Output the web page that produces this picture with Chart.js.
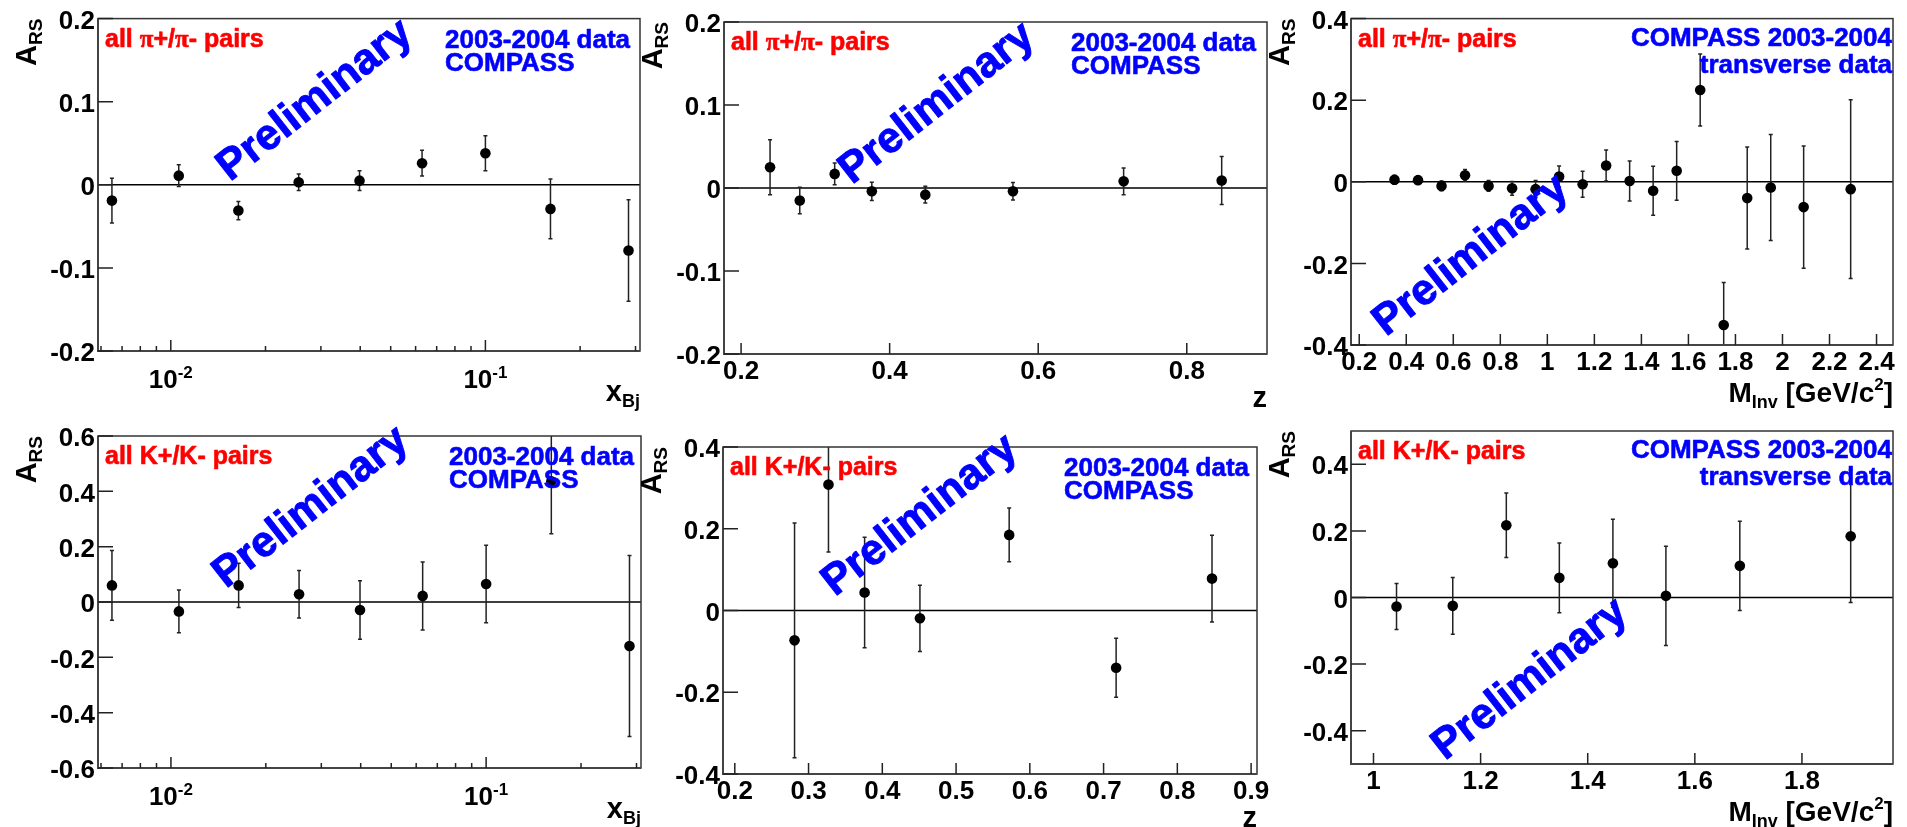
<!DOCTYPE html>
<html>
<head>
<meta charset="utf-8">
<script src="https://cdn.jsdelivr.net/npm/chart.js@4.4.1/dist/chart.umd.min.js"></script>
<style>
  body { margin: 0; background: #fff; width: 1907px; height: 827px; overflow: hidden; position: relative; }
  canvas { position: absolute; left: 0; top: 0; }
</style>
</head>
<body>
<canvas id="c1" width="1907" height="827"></canvas>
<canvas id="c2" width="1907" height="827"></canvas>
<canvas id="c3" width="1907" height="827"></canvas>
<canvas id="c4" width="1907" height="827"></canvas>
<canvas id="c5" width="1907" height="827"></canvas>
<canvas id="c6" width="1907" height="827"></canvas>
<script>
// ---- data ----
const xBjBins = [0.0065, 0.0106, 0.0164, 0.0255, 0.0398, 0.0629, 0.100, 0.161, 0.285];
const pionXbjA = [-0.019, 0.011, -0.031, 0.003, 0.005, 0.026, 0.038, -0.029, -0.079];
const pionXbjErr = [0.027, 0.013, 0.011, 0.010, 0.012, 0.0155, 0.021, 0.036, 0.061];
const kaonXbjA = [0.060, -0.034, 0.060, 0.028, -0.029, 0.022, 0.065, 0.436, -0.159];
const kaonXbjErr = [0.126, 0.077, 0.080, 0.086, 0.106, 0.123, 0.140, 0.189, 0.327];

const pionZBins = [0.239, 0.279, 0.326, 0.376, 0.448, 0.566, 0.715, 0.847];
const pionZA = [0.025, -0.015, 0.017, -0.004, -0.008, -0.004, 0.008, 0.009];
const pionZErr = [0.033, 0.016, 0.013, 0.011, 0.010, 0.0105, 0.016, 0.029];
const kaonZBins = [0.281, 0.327, 0.376, 0.451, 0.572, 0.717, 0.847];
const kaonZA = [-0.073, 0.308, 0.044, -0.019, 0.185, -0.140, 0.078];
const kaonZErr = [0.287, 0.165, 0.135, 0.081, 0.066, 0.072, 0.106];

const pionMBins = [0.35, 0.45, 0.55, 0.65, 0.75, 0.85, 0.95, 1.05, 1.15, 1.25, 1.35, 1.45, 1.55, 1.65, 1.75, 1.85, 1.95, 2.09, 2.29];
const pionMA = [0.005, 0.004, -0.010, 0.016, -0.010, -0.016, -0.018, 0.013, -0.006, 0.040, 0.002, -0.022, 0.027, 0.225, -0.351, -0.040, -0.014, -0.062, -0.018];
const pionMErr = [0.011, 0.010, 0.012, 0.014, 0.013, 0.017, 0.021, 0.026, 0.032, 0.038, 0.049, 0.060, 0.072, 0.088, 0.104, 0.125, 0.130, 0.150, 0.219];
const kaonMBins = [1.043, 1.148, 1.248, 1.347, 1.447, 1.546, 1.684, 1.891];
const kaonMA = [-0.027, -0.025, 0.217, 0.059, 0.103, 0.005, 0.095, 0.184];
const kaonMErr = [0.069, 0.085, 0.097, 0.105, 0.132, 0.149, 0.134, 0.199];

// ---- tick values ----
const yTicksPiSmall = [-0.2, -0.1, 0, 0.1, 0.2];
const yTicksPi = [-0.4, -0.2, 0, 0.2, 0.4];
const yTicksK = [-0.6, -0.4, -0.2, 0, 0.2, 0.4, 0.6];
const yTicksKz = [-0.4, -0.2, 0, 0.2, 0.4];
const yTicksKm = [-0.4, -0.2, 0, 0.2, 0.4];
const xLogMajor = [0.01, 0.1];
const xLogMinor = [0.006, 0.007, 0.008, 0.009, 0.02, 0.03, 0.04, 0.05, 0.06, 0.07, 0.08, 0.09, 0.2, 0.3];
const xLogLabels = ['-2', '-1'];
const xTicksPiZ = [0.2, 0.4, 0.6, 0.8];
const xTicksKZ = [0.2, 0.3, 0.4, 0.5, 0.6, 0.7, 0.8, 0.9];
const xTicksPiM = [0.2, 0.4, 0.6, 0.8, 1, 1.2, 1.4, 1.6, 1.8, 2, 2.2, 2.4];
const xTicksKM = [1, 1.2, 1.4, 1.6, 1.8];

const W = 1907, H = 827, Y_W = 60, X_H = 40;
const SANS = '"Liberation Sans", Arial, Helvetica, sans-serif';
const SERIF = '"Liberation Serif", "Times New Roman", serif';
const RED = '#ff0000', BLUE = '#0000ff';

const piLabel = [{t: 'all '}, {t: 'π', serif: true}, {t: '+/'}, {t: 'π', serif: true}, {t: '- pairs'}];
const kLabel = [{t: 'all K+/K- pairs'}];
const xBjTitle = [{t: 'x', s: 29}, {t: 'Bj', s: 18, dy: 6}];
const zTitle = [{t: 'z', s: 29}];
const mTitle = [{t: 'M', s: 28}, {t: 'Inv', s: 18, dy: 6}, {t: ' [GeV/c', s: 28}, {t: '2', s: 17, dy: -12}, {t: ']', s: 28}];

const panels = [
  { id: 'c1', frame: [98, 18, 640, 351], log: true, xmin: 0.00587, xmax: 0.31, ymin: -0.2, ymax: 0.2,
    xs: xBjBins, ys: pionXbjA, errs: pionXbjErr, yTicks: yTicksPiSmall, xTicks: xLogMajor,
    red: piLabel, blue: ['2003-2004 data', 'COMPASS'], blueAlign: 'left', blueX: 445,
    prelim: [230, 182], xTitle: xBjTitle },
  { id: 'c2', frame: [724, 22, 1267, 354], log: false, xmin: 0.177, xmax: 0.908, ymin: -0.2, ymax: 0.2,
    xs: pionZBins, ys: pionZA, errs: pionZErr, yTicks: yTicksPiSmall, xTicks: xTicksPiZ,
    red: piLabel, blue: ['2003-2004 data', 'COMPASS'], blueAlign: 'left', blueX: 1071,
    prelim: [852, 185], xTitle: zTitle },
  { id: 'c3', frame: [1351, 13, 1893, 345], log: false, xmin: 0.165, xmax: 2.47, ymin: -0.4, ymax: 0.4,
    xs: pionMBins, ys: pionMA, errs: pionMErr, yTicks: yTicksPi, xTicks: xTicksPiM,
    red: piLabel, blue: ['COMPASS 2003-2004', 'transverse data'], blueAlign: 'right', blueX: 1892,
    prelim: [1386, 337], xTitle: mTitle },
  { id: 'c4', frame: [98, 436, 641, 768], log: true, xmin: 0.00587, xmax: 0.31, ymin: -0.6, ymax: 0.6,
    xs: xBjBins, ys: kaonXbjA, errs: kaonXbjErr, yTicks: yTicksK, xTicks: xLogMajor,
    red: kLabel, blue: ['2003-2004 data', 'COMPASS'], blueAlign: 'left', blueX: 449,
    prelim: [226, 589], xTitle: xBjTitle },
  { id: 'c5', frame: [723, 447, 1257, 774], log: false, xmin: 0.184, xmax: 0.908, ymin: -0.4, ymax: 0.4,
    xs: kaonZBins, ys: kaonZA, errs: kaonZErr, yTicks: yTicksKz, xTicks: xTicksKZ,
    red: kLabel, blue: ['2003-2004 data', 'COMPASS'], blueAlign: 'left', blueX: 1064,
    prelim: [835, 597], xTitle: zTitle },
  { id: 'c6', frame: [1351, 431, 1893, 764], log: false, xmin: 0.958, xmax: 1.97, ymin: -0.5, ymax: 0.5,
    xs: kaonMBins, ys: kaonMA, errs: kaonMErr, yTicks: yTicksKm, xTicks: xTicksKM,
    red: kLabel, blue: ['COMPASS 2003-2004', 'transverse data'], blueAlign: 'right', blueX: 1892,
    prelim: [1445, 761], xTitle: mTitle }
];

function richText(ctx, x, y, parts, opt) {
  const font = p => 'bold ' + (p.s || opt.size) + 'px ' + (p.serif ? SERIF : SANS);
  ctx.save();
  ctx.translate(x, y);
  if (opt.angle) ctx.rotate(opt.angle);
  let w = 0;
  parts.forEach(p => { ctx.font = font(p); w += ctx.measureText(p.t).width; });
  let cx = opt.align === 'right' ? -w : (opt.align === 'center' ? -w / 2 : 0);
  ctx.fillStyle = opt.color || '#000';
  ctx.strokeStyle = opt.color || '#000';
  ctx.lineWidth = opt.heavy || 0;
  ctx.lineJoin = 'round';
  ctx.textAlign = 'left';
  ctx.textBaseline = 'alphabetic';
  parts.forEach(p => {
    ctx.font = font(p);
    ctx.fillText(p.t, cx, p.dy || 0);
    if (opt.heavy) ctx.strokeText(p.t, cx, p.dy || 0);
    cx += ctx.measureText(p.t).width;
  });
  ctx.restore();
}

const fmt = v => String(Math.round(v * 100) / 100);

function panelPlugin(p) {
  return {
    id: 'panel',
    beforeDatasetsDraw(chart) {
      const { ctx, chartArea: a, scales: { x, y } } = chart;
      ctx.save();
      ctx.beginPath();
      ctx.rect(a.left, a.top, a.right - a.left, a.bottom - a.top);
      ctx.clip();
      const y0 = y.getPixelForValue(0);
      ctx.strokeStyle = '#000';
      ctx.lineWidth = 1.5;
      ctx.beginPath();
      ctx.moveTo(a.left, y0);
      ctx.lineTo(a.right, y0);
      ctx.stroke();
      ctx.strokeStyle = '#222';
      ctx.lineWidth = 1.5;
      p.xs.forEach((xv, i) => {
        const px = x.getPixelForValue(xv);
        const yt = y.getPixelForValue(p.ys[i] + p.errs[i]);
        const yb = y.getPixelForValue(p.ys[i] - p.errs[i]);
        ctx.beginPath();
        ctx.moveTo(px, yt); ctx.lineTo(px, yb);
        ctx.moveTo(px - 2, yt); ctx.lineTo(px + 2, yt);
        ctx.moveTo(px - 2, yb); ctx.lineTo(px + 2, yb);
        ctx.stroke();
      });
      ctx.restore();
    },
    afterDraw(chart) {
      const { ctx, chartArea: a, scales: { x, y } } = chart;
      ctx.save();
      // frame
      ctx.strokeStyle = '#333';
      ctx.lineWidth = 1.5;
      ctx.strokeRect(a.left, a.top, a.right - a.left, a.bottom - a.top);
      ctx.strokeStyle = '#444';
      ctx.lineWidth = 2;
      ctx.beginPath();
      ctx.moveTo(a.left, a.top); ctx.lineTo(a.left, a.bottom); ctx.lineTo(a.right, a.bottom);
      ctx.stroke();
      // tick marks, drawn inward like ROOT
      ctx.lineWidth = 1.5;
      ctx.strokeStyle = '#222';
      ctx.beginPath();
      p.yTicks.forEach(v => {
        const py = y.getPixelForValue(v);
        ctx.moveTo(a.left, py); ctx.lineTo(a.left + 15, py);
      });
      p.xTicks.forEach(v => {
        const px = x.getPixelForValue(v);
        ctx.moveTo(px, a.bottom); ctx.lineTo(px, a.bottom - 11);
      });
      if (p.log) {
        xLogMinor.forEach(v => {
          const px = x.getPixelForValue(v);
          ctx.moveTo(px, a.bottom); ctx.lineTo(px, a.bottom - 5);
        });
      }
      ctx.stroke();
      ctx.restore();

      // log axis labels 10^n
      if (p.log) {
        xLogMajor.forEach((v, i) => {
          richText(ctx, x.getPixelForValue(v), a.bottom + 37,
            [{t: '10', s: 26}, {t: xLogLabels[i], s: 17, dy: -10}], {align: 'center', size: 26});
        });
      }
      // axis titles
      richText(ctx, a.left - 62, a.top, [{t: 'A', s: 29}, {t: 'RS', s: 19, dy: 6}],
        {align: 'right', angle: -Math.PI / 2, size: 29});
      const tOff = p.xTitle === mTitle ? 57 : (p.xTitle === zTitle ? 53 : 50);
      richText(ctx, a.right, a.bottom + tOff, p.xTitle, {align: 'right', size: 28});

      // labels
      richText(ctx, a.left + 7, a.top + 28, p.red, {color: RED, size: 25, heavy: 0.6});
      p.blue.forEach((t, i) => {
        const by = p.blueAlign === 'right' ? a.top + 27 + i * 27 : a.top + 29 + i * 23;
        richText(ctx, p.blueX, by, [{t: t}], {color: BLUE, size: 26, align: p.blueAlign, heavy: 0.6});
      });
      richText(ctx, p.prelim[0], p.prelim[1], [{t: 'Preliminary', s: 43}],
        {color: BLUE, size: 43, angle: -38 * Math.PI / 180, heavy: 1});
    }
  };
}

function makeChart(p) {
  const tickFont = { family: SANS, size: 26, weight: 'bold' };
  new Chart(document.getElementById(p.id), {
    type: 'scatter',
    data: {
      datasets: [{
        data: p.xs.map((xv, i) => ({ x: xv, y: p.ys[i] })),
        pointRadius: 5.3,
        pointHoverRadius: 5.3,
        pointBackgroundColor: '#000',
        pointBorderColor: '#000',
        pointBorderWidth: 0,
        showLine: false
      }]
    },
    options: {
      responsive: false,
      animation: false,
      events: [],
      layout: {
        autoPadding: false,
        padding: { left: p.frame[0] - Y_W, top: p.frame[1], right: W - p.frame[2], bottom: H - p.frame[3] - X_H }
      },
      plugins: { legend: { display: false }, tooltip: { enabled: false } },
      scales: {
        x: {
          type: p.log ? 'logarithmic' : 'linear',
          min: p.xmin, max: p.xmax, bounds: 'data',
          grid: { display: false, drawTicks: false },
          border: { display: false },
          ticks: { display: !p.log, font: tickFont, color: '#000', padding: 2, maxRotation: 0, autoSkip: false, callback: fmt },
          afterBuildTicks: s => { s.ticks = p.xTicks.map(v => ({ value: v })); },
          afterFit: s => { s.height = X_H; }
        },
        y: {
          min: p.ymin, max: p.ymax, bounds: 'data',
          grid: { display: false, drawTicks: false },
          border: { display: false },
          ticks: { font: tickFont, color: '#000', padding: 3, labelOffset: 3, autoSkip: false, callback: fmt },
          afterBuildTicks: s => { s.ticks = p.yTicks.map(v => ({ value: v })); },
          afterFit: s => { s.width = Y_W; }
        }
      }
    },
    plugins: [panelPlugin(p)]
  });
}

panels.forEach(makeChart);
</script>
</body>
</html>
